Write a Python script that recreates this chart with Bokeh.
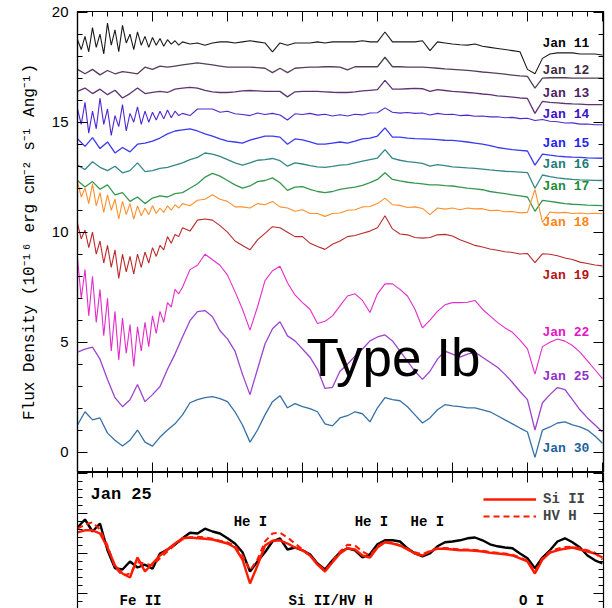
from bokeh.plotting import figure
from bokeh.models import Range1d, LinearAxis, FixedTicker, Label, ColumnDataSource, Legend, LegendItem
from bokeh.layouts import column
from bokeh.embed import file_html
from bokeh.resources import INLINE
from bokeh.core.properties import value

WAVE = [4500, 4550, 4600, 4650, 4700, 4750, 4800, 4850, 4900, 4950,
        5000, 5050, 5100, 5150, 5200, 5250, 5300, 5350, 5400, 5450,
        5500, 5550, 5600, 5650, 5700, 5750, 5800, 5850, 5900, 5950,
        6000, 6050, 6100, 6150, 6200, 6250, 6300, 6350, 6400, 6450,
        6500, 6550, 6600, 6650, 6700, 6750, 6800, 6850, 6900, 6950,
        7000, 7050, 7100, 7150, 7200, 7250, 7300, 7350, 7400, 7450,
        7500, 7550, 7600, 7650, 7700, 7750, 7800, 7850, 7900, 7950,
        8000]
# finer sampling of the noisy blue end (4500-5175 A)
WAVE_BLUE = [4500, 4525, 4550, 4575, 4600, 4625, 4650, 4675, 4700, 4725,
             4750, 4775, 4800, 4825, 4850, 4875, 4900, 4925, 4950, 4975,
             5000, 5025, 5050, 5075, 5100, 5125, 5150, 5175]

JAN11 = [18.7, 18.1, 19.2, 18.3, 19.5, 18.2, 19.4, 18.4, 19.1, 18.4,
         18.9, 18.5, 18.8, 18.5, 18.65, 18.55, 18.6, 18.5, 18.6, 18.65,
         18.65, 18.6, 18.65, 18.7, 18.65, 18.6, 18.2, 18.6, 18.5, 18.6,
         18.6, 18.6, 18.65, 18.6, 18.65, 18.65, 18.65, 18.65, 18.7, 18.65,
         18.65, 19.1, 18.65, 18.65, 18.65, 18.65, 18.7, 18.25, 18.65, 18.6,
         18.55, 18.52, 18.5, 18.55, 18.45, 18.4, 18.35, 18.3, 18.25, 18.2,
         17.4, 17.2, 17.9, 18.1, 18.15, 18.15, 18.15, 18.1, 18.1, 18.1,
         18.05]
JAN11_BLUE = [18.75, 18.3, 18.9, 18.2, 19.3, 18.4, 19.0, 18.1, 19.5, 18.5,
              19.2, 18.2, 19.4, 18.6, 19.0, 18.3, 19.1, 18.5, 18.9, 18.4,
              18.85, 18.5, 18.8, 18.45, 18.75, 18.55, 18.7, 18.5]
JAN12 = [17.4, 17.2, 17.4, 17.15, 17.35, 17.2, 17.3, 17.25, 17.2, 17.5,
         17.4, 17.55, 17.5, 17.55, 17.6, 17.65, 17.7, 17.65, 17.6, 17.55,
         17.5, 17.5, 17.5, 17.5, 17.48, 17.45, 17.25, 17.45, 17.25, 17.45,
         17.48, 17.5, 17.5, 17.52, 17.52, 17.5, 17.38, 17.52, 17.52, 17.52,
         17.52, 17.95, 17.52, 17.52, 17.5, 17.5, 17.5, 17.48, 17.45, 17.42,
         17.4, 17.38, 17.35, 17.32, 17.28, 17.25, 17.22, 17.18, 17.14, 17.1,
         17.08, 16.55, 17.0, 17.02, 17.02, 17.02, 17.0, 17.0, 17.0, 17.0,
         17.0]
JAN13 = [16.4, 16.55, 16.3, 16.5, 16.25, 16.45, 16.1, 16.3, 16.55, 16.3,
         16.35, 16.4, 16.35, 16.5, 16.55, 16.58, 16.55, 16.45, 16.38, 16.35,
         16.35, 16.38, 16.42, 16.44, 16.42, 16.4, 16.4, 16.4, 16.15, 16.38,
         16.4, 16.4, 16.4, 16.38, 16.36, 16.35, 16.35, 16.38, 16.42, 16.45,
         16.48, 16.9, 16.5, 16.5, 16.52, 16.54, 16.52, 16.4, 16.48, 16.44,
         16.4, 16.38, 16.35, 16.32, 16.28, 16.25, 16.2, 16.17, 16.14, 16.1,
         16.08, 15.4, 15.95, 15.9, 15.88, 15.85, 15.83, 15.82, 15.8, 15.8,
         15.8]
JAN14 = [15.7, 14.4, 15.8, 14.5, 15.7, 14.6, 15.5, 14.7, 15.6, 14.8,
         15.4, 15.0, 15.5, 15.1, 15.4, 15.3, 15.6, 15.6, 15.6, 15.45,
         15.5, 15.38, 15.35, 15.3, 15.42, 15.35, 15.4, 15.33, 15.1, 15.38,
         15.35, 15.4, 15.32, 15.36, 15.28, 15.34, 15.28, 15.36, 15.33, 15.42,
         15.43, 15.65, 15.45, 15.41, 15.44, 15.4, 15.42, 15.33, 15.4, 15.35,
         15.36, 15.3, 15.32, 15.27, 15.28, 15.24, 15.25, 15.2, 15.22, 15.16,
         15.18, 15.08, 15.12, 15.04, 15.02, 14.96, 14.97, 14.91, 14.92, 14.88,
         14.88]
JAN14_BLUE = [15.6, 14.9, 15.9, 14.5, 15.5, 14.7, 16.1, 14.9, 15.6, 14.4,
              15.3, 14.8, 15.8, 14.6, 15.4, 15.0, 15.7, 14.9, 15.5, 15.0,
              15.45, 15.1, 15.5, 15.15, 15.55, 15.2, 15.5, 15.3]
JAN15 = [14.25, 13.9, 14.3, 13.8, 14.1, 13.6, 13.85, 13.65, 14.0, 14.05,
         14.14, 14.28, 14.47, 14.6, 14.65, 14.7, 14.6, 14.47, 14.37, 14.24,
         14.14, 14.1, 14.05, 14.18, 14.28, 14.37, 14.37, 14.32, 14.0, 14.24,
         14.2, 14.1, 14.0, 14.0, 14.05, 14.1, 14.05, 14.14, 14.24, 14.28,
         14.37, 14.74, 14.32, 14.32, 14.28, 14.25, 14.24, 14.23, 14.21, 14.18,
         14.17, 14.14, 14.1, 14.05, 14.0, 13.93, 13.85, 13.8, 13.75, 13.72,
         13.69, 13.05, 13.55, 13.5, 13.46, 13.43, 13.41, 13.4, 13.38, 13.37,
         13.36]
JAN16 = [13.05, 12.85, 13.2, 12.95, 12.8, 13.0, 12.7, 12.8, 13.15, 12.75,
         12.8, 12.9, 12.95, 13.05, 13.15, 13.3, 13.4, 13.6, 13.55, 13.45,
         13.3, 13.15, 13.05, 13.15, 13.27, 13.3, 13.35, 13.25, 13.0, 13.15,
         13.1, 13.03, 12.97, 12.95, 12.99, 13.05, 13.07, 13.15, 13.23, 13.3,
         13.37, 13.75, 13.35, 13.27, 13.21, 13.17, 13.13, 13.0, 13.07, 13.03,
         12.97, 12.95, 12.92, 12.9, 12.87, 12.83, 12.8, 12.77, 12.75, 12.73,
         12.71, 12.0, 12.6, 12.53, 12.47, 12.43, 12.4, 12.38, 12.37, 12.36,
         12.35]
JAN17 = [12.35, 12.05, 12.3, 11.95, 12.15, 11.7, 11.8, 11.4, 11.6, 11.3,
         11.55, 11.65, 11.6, 11.75, 11.8, 12.0, 12.2, 12.5, 12.67, 12.55,
         12.35, 12.15, 12.0, 12.1, 12.3, 12.35, 12.47, 12.25, 11.9, 12.05,
         12.07, 11.95, 11.85, 11.8, 11.85, 11.95, 12.0, 12.05, 12.13, 12.25,
         12.4, 12.7, 12.4, 12.33, 12.27, 12.23, 12.2, 12.15, 12.15, 12.12,
         12.1, 12.05, 12.0, 11.97, 11.93, 11.85, 11.8, 11.75, 11.7, 11.65,
         11.6, 10.95, 11.45, 11.4, 11.35, 11.3, 11.27, 11.25, 11.23, 11.22,
         11.21]
JAN18 = [12.25, 11.45, 12.15, 11.15, 11.75, 10.65, 11.45, 10.55, 11.25, 10.65,
         11.05, 10.75, 11.15, 10.95, 11.3, 11.2, 11.45, 11.5, 11.7, 11.5,
         11.4, 11.15, 11.15, 11.1, 11.3, 11.25, 11.4, 11.15, 11.1, 10.95,
         11.02, 10.85, 10.85, 10.72, 10.85, 10.87, 11.0, 11.02, 11.15, 11.17,
         11.3, 11.55, 11.25, 11.22, 11.12, 11.15, 11.08, 10.8, 11.1, 11.05,
         11.1, 11.02, 11.1, 11.06, 11.07, 10.98, 11.0, 10.93, 10.94, 10.88,
         10.9, 11.95, 10.45, 10.92, 10.88, 10.9, 10.85, 10.87, 10.84, 10.86,
         10.84]
JAN18_BLUE = [12.3, 11.6, 12.0, 11.3, 12.2, 11.2, 11.8, 10.9, 11.7, 11.0,
              11.5, 10.6, 11.4, 10.8, 11.3, 10.6, 11.2, 10.75, 11.1, 10.8,
              11.2, 10.85, 11.1, 10.9, 11.2, 11.0, 11.25, 11.1]
JAN19 = [10.3, 9.6, 9.95, 8.9, 9.4, 8.0, 8.9, 8.15, 8.8, 8.6,
         9.2, 9.05, 9.7, 9.6, 10.2, 10.05, 10.55, 10.6, 10.55, 10.3,
         10.0, 9.6, 9.4, 9.2, 9.65, 9.95, 10.25, 10.2, 10.0, 9.8,
         9.8, 9.5, 9.35, 9.22, 9.45, 9.6, 9.8, 9.85, 9.95, 10.05,
         10.2, 10.75, 10.15, 9.92, 9.88, 9.76, 9.73, 9.76, 9.88, 9.9,
         9.83, 9.66, 9.53, 9.4, 9.33, 9.24, 9.18, 9.11, 9.08, 9.01,
         9.03, 8.62, 9.02, 9.0, 8.93, 8.83, 8.76, 8.64, 8.58, 8.51,
         8.47]
JAN19_BLUE = [10.4, 9.7, 10.1, 9.3, 10.0, 9.0, 9.6, 8.6, 9.4, 8.4,
              9.2, 7.9, 9.0, 8.2, 8.9, 8.1, 9.0, 8.4, 9.1, 8.6,
              9.3, 8.9, 9.4, 9.2, 9.8, 9.5, 9.9, 9.8]
JAN22 = [8.8, 6.9, 8.1, 5.8, 7.1, 4.7, 6.2, 4.3, 5.8, 4.8,
         5.75, 6.2, 6.5, 7.35, 7.5, 8.3, 8.5, 9.0, 8.75, 8.5,
         8.05, 7.3, 6.5, 5.55, 6.6, 7.8, 8.25, 8.45, 7.7, 7.15,
         6.8, 6.5, 5.85, 5.95, 6.2, 6.65, 7.1, 7.2, 6.9, 6.35,
         7.2, 7.65, 7.65, 7.4, 7.1, 6.5, 5.65, 6.0, 6.4, 6.7,
         6.8, 6.8, 6.82, 6.9, 6.5, 6.2, 5.9, 5.65, 5.45, 5.1,
         4.7, 3.55, 4.8, 5.0, 5.15, 5.05, 4.85, 4.55, 4.15, 3.75,
         3.35]
JAN22_BLUE = [8.8, 7.0, 8.3, 6.2, 8.0, 5.9, 7.4, 5.3, 7.0, 4.6,
              6.4, 4.2, 6.1, 4.5, 5.8, 3.9, 5.7, 4.6, 5.9, 4.8,
              6.2, 5.4, 6.4, 5.9, 6.8, 6.6, 7.4, 7.2]
JAN25 = [4.55, 4.69, 4.78, 4.23, 3.31, 2.48, 2.07, 2.39, 3.08, 2.3,
         2.62, 2.99, 3.77, 4.46, 5.24, 5.98, 6.39, 6.44, 6.16, 5.52,
         5.15, 4.6, 3.54, 2.62, 3.77, 4.92, 5.61, 5.93, 5.29, 5.06,
         4.69, 4.32, 3.77, 2.9, 2.95, 3.68, 4.0, 4.37, 4.69, 5.06,
         5.24, 5.33, 5.06, 4.6, 4.14, 3.68, 3.31, 3.68, 4.23, 4.6,
         4.46, 4.32, 4.46, 4.55, 4.32, 4.09, 3.86, 3.54, 3.17, 2.76,
         2.39, 1.01, 2.25, 2.62, 2.94, 2.85, 2.39, 1.93, 1.56, 1.24,
         0.92]
JAN30 = [1.24, 1.84, 1.47, 1.56, 0.87, 0.55, 0.28, 0.55, 1.01, 0.46,
         0.28, 0.69, 1.01, 1.29, 1.7, 2.25, 2.39, 2.48, 2.53, 2.44,
         2.3, 1.84, 1.24, 0.46, 1.01, 1.7, 2.3, 2.57, 2.02, 2.21,
         2.07, 1.98, 1.84, 1.29, 1.2, 1.56, 1.66, 1.84, 1.75, 1.38,
         2.02, 2.48, 2.39, 2.34, 2.07, 1.7, 1.33, 1.56, 1.93, 2.16,
         2.11, 2.07, 2.02, 2.02, 1.93, 1.84, 1.66, 1.47, 1.29, 1.1,
         0.92, -0.23, 1.01, 1.15, 1.33, 1.38, 1.24, 1.15, 1.01, 0.74,
         0.41]

# bottom panel (Jan 25 comparison, arbitrary flux units)
OBS_JAN25 = [1.65, 1.85, 1.55, 1.75, 1.08, 0.63, 0.6, 0.8, 0.65, 0.72,
             0.62, 1.0, 1.1, 1.22, 1.38, 1.52, 1.5, 1.62, 1.55, 1.5,
             1.38, 1.25, 1.03, 0.55, 0.8, 1.03, 1.3, 1.38, 1.1, 1.15,
             1.08, 0.98, 0.75, 0.6, 0.83, 1.03, 1.13, 1.08, 0.9, 0.98,
             1.23, 1.33, 1.33, 1.3, 1.13, 1.0, 0.93, 1.0, 1.18, 1.28,
             1.3, 1.33, 1.38, 1.4, 1.33, 1.23, 1.18, 1.15, 1.13, 1.0,
             0.88, 0.63, 0.9, 1.08, 1.3, 1.38, 1.28, 1.15, 0.95, 0.83,
             0.75]
MODEL_SIII = [1.53, 1.58, 1.58, 1.5, 1.15, 0.7, 0.5, 0.4, 0.9, 0.55,
              0.75, 0.95, 1.1, 1.25, 1.38, 1.4, 1.38, 1.37, 1.35, 1.3,
              1.25, 1.15, 0.85, 0.25, 0.7, 1.2, 1.32, 1.33, 1.25, 1.15,
              1.08, 0.95, 0.72, 0.55, 0.78, 1.0, 1.13, 1.1, 0.95, 0.9,
              1.15, 1.28, 1.25, 1.2, 1.1, 1.0, 0.95, 1.05, 1.12, 1.12,
              1.1, 1.08, 1.08, 1.07, 1.05, 1.02, 1.0, 0.98, 0.95, 0.88,
              0.8, 0.5, 0.85, 1.02, 1.08, 1.12, 1.15, 1.1, 1.05, 1.0,
              0.9]
MODEL_HVH = [1.62, 1.72, 1.78, 1.6, 1.2, 0.65, 0.45, 0.5, 0.78, 0.75,
             0.7, 0.88, 1.05, 1.22, 1.35, 1.4, 1.42, 1.4, 1.37, 1.32,
             1.28, 1.2, 0.95, 0.58, 0.85, 1.3, 1.5, 1.52, 1.4, 1.25,
             1.1, 0.95, 0.75, 0.58, 0.8, 1.05, 1.22, 1.2, 1.05, 0.95,
             1.18, 1.3, 1.27, 1.2, 1.12, 1.03, 0.98, 1.07, 1.13, 1.14,
             1.12, 1.1, 1.1, 1.09, 1.07, 1.04, 1.02, 1.0, 0.97, 0.9,
             0.82, 0.55, 0.88, 1.05, 1.12, 1.16, 1.17, 1.13, 1.08, 1.02,
             0.85]

DATES = ["Jan 11", "Jan 12", "Jan 13", "Jan 14", "Jan 15", "Jan 16",
         "Jan 17", "Jan 18", "Jan 19", "Jan 22", "Jan 25", "Jan 30"]
SERIES = [JAN11, JAN12, JAN13, JAN14, JAN15, JAN16,
          JAN17, JAN18, JAN19, JAN22, JAN25, JAN30]
BLUE_ENDS = {0: JAN11_BLUE, 3: JAN14_BLUE, 7: JAN18_BLUE, 8: JAN19_BLUE, 9: JAN22_BLUE}
COLORS = ["#000000", "#3e2c44", "#4e1d62", "#3c10cc", "#2424ee", "#1f7a7a",
          "#1f8c3a", "#ff8414", "#b41414", "#e214c4", "#9030c8", "#20609c"]
LABEL_Y = [18.58, 17.35, 16.3, 15.35, 14.03, 13.08, 12.08, 10.44, 8.03, 5.44, 3.44, 0.17]

for s in SERIES + [OBS_JAN25, MODEL_SIII, MODEL_HVH]:
    assert len(s) == len(WAVE)
for s in BLUE_ENDS.values():
    assert len(s) == len(WAVE_BLUE)

X_MAJOR = [4500, 5000, 5500, 6000, 6500, 7000, 7500, 8000]
X_MINOR = list(range(4500, 8001, 100))
N_BLUE = 14  # WAVE index where the coarse grid takes over (5200 A)


def tick_style(ax, labels=False):
    ax.major_tick_in = 10
    ax.major_tick_out = 0
    ax.minor_tick_in = 5
    ax.minor_tick_out = 0
    ax.axis_line_color = "black"
    ax.major_tick_line_color = "black"
    ax.minor_tick_line_color = "black"
    ax.axis_line_width = 1.2
    if not labels:
        ax.major_label_text_font_size = "1px"
        ax.major_label_text_color = None
        ax.major_label_standoff = 0


p1 = figure(width=612, height=472, x_range=Range1d(4500, 8007), y_range=Range1d(-0.92, 20.03),
            x_axis_type=None, y_axis_type=None, output_backend="svg", toolbar_location=None,
            min_border_left=77, min_border_right=9, min_border_top=11, min_border_bottom=0)
p1.outline_line_color = "black"
p1.outline_line_width = 1.2

yt = FixedTicker(ticks=[0, 5, 10, 15, 20], minor_ticks=list(range(-1, 21)))
xt = FixedTicker(ticks=X_MAJOR, minor_ticks=X_MINOR)

left = LinearAxis(ticker=yt)
tick_style(left, labels=True)
left.major_label_text_font = "Liberation Sans"
left.major_label_text_font_size = "15px"
left.major_label_text_color = "black"
left.major_label_standoff = 9
left.axis_label = "Flux Density (10\u207b\u00b9\u2076 erg cm\u207b\u00b2 s\u207b\u00b9 Ang\u207b\u00b9)"
left.axis_label_text_font = "Liberation Mono"
left.axis_label_text_font_size = "16px"
left.axis_label_text_font_style = "normal"
left.axis_label_text_color = "black"
left.axis_label_standoff = 10
p1.add_layout(left, "left")
for loc, tk in (("right", yt), ("above", xt), ("below", xt)):
    ax = LinearAxis(ticker=tk)
    tick_style(ax)
    p1.add_layout(ax, loc)

for i, (flux, col) in enumerate(zip(SERIES, COLORS)):
    if i in BLUE_ENDS:
        xs = WAVE_BLUE + WAVE[N_BLUE:]
        ys = BLUE_ENDS[i] + flux[N_BLUE:]
        p1.line(xs, ys, line_color=col, line_width=1.1, line_alpha=0.9)
    else:
        p1.line(WAVE, flux, line_color=col, line_width=1.3, line_alpha=0.9)

lab_src = ColumnDataSource(dict(x=[7600] * len(DATES), y=LABEL_Y, t=DATES, c=COLORS))
p1.text(x="x", y="y", text="t", text_color="c", source=lab_src,
        text_font=value("Liberation Mono"), text_font_size=value("13px"),
        text_font_style="bold", text_baseline="middle", text_align="left")

p1.add_layout(Label(x=6027, y=4.3, text="Type Ib", text_font="Liberation Sans",
                    text_font_size="53px", text_baseline="alphabetic", text_color="black"))

# ---------------- bottom panel ----------------
p2 = figure(width=612, height=136, x_range=p1.x_range, y_range=Range1d(-0.375, 3.025),
            x_axis_type=None, y_axis_type=None, output_backend="svg", toolbar_location=None,
            min_border_left=77, min_border_right=9, min_border_top=0, min_border_bottom=0)
p2.outline_line_color = None
yt2 = FixedTicker(ticks=[0, 1, 2, 3], minor_ticks=[round(-0.4 + 0.2 * i, 1) for i in range(18)])
for loc, tk in (("left", yt2), ("right", yt2), ("above", xt)):
    ax = LinearAxis(ticker=tk)
    tick_style(ax)
    p2.add_layout(ax, loc)

p2.line(WAVE, OBS_JAN25, line_color="black", line_width=2.4)
r_si = p2.line(WAVE, MODEL_SIII, line_color="#ff1a00", line_width=2.4)
r_hv = p2.line(WAVE, MODEL_HVH, line_color="#ff1a00", line_width=2.0, line_dash="6 4")

leg = Legend(items=[LegendItem(label="Si II", renderers=[r_si]),
                    LegendItem(label="HV H", renderers=[r_hv])],
             location=(406, 84), orientation="vertical",
             background_fill_alpha=0, border_line_color=None,
             glyph_width=53, glyph_height=14, label_height=14, spacing=1,
             padding=0, margin=0, label_standoff=7,
             label_text_font="Liberation Mono", label_text_font_size="14px",
             label_text_font_style="bold")
p2.add_layout(leg, "center")

ann_font = dict(text_font="Liberation Mono", text_font_size="14px", text_font_style="bold",
                text_color="black", text_align="center", text_baseline="middle")
p2.add_layout(Label(x=4587, y=2.47, text="Jan 25", text_font="Liberation Mono",
                    text_font_size="17px", text_font_style="bold", text_color="black",
                    text_align="left", text_baseline="middle"))
for tx, xx, yy in (("He I", 5653, 1.78), ("He I", 6460, 1.8), ("He I", 6833, 1.8),
                   ("Fe II", 4920, -0.18), ("Si II/HV H", 6187, -0.18), ("O I", 7527, -0.18)):
    p2.add_layout(Label(x=xx, y=yy, text=tx, **ann_font))

layout = column(p1, p2, spacing=0)
open("out.html", "w").write(file_html(layout, INLINE))
